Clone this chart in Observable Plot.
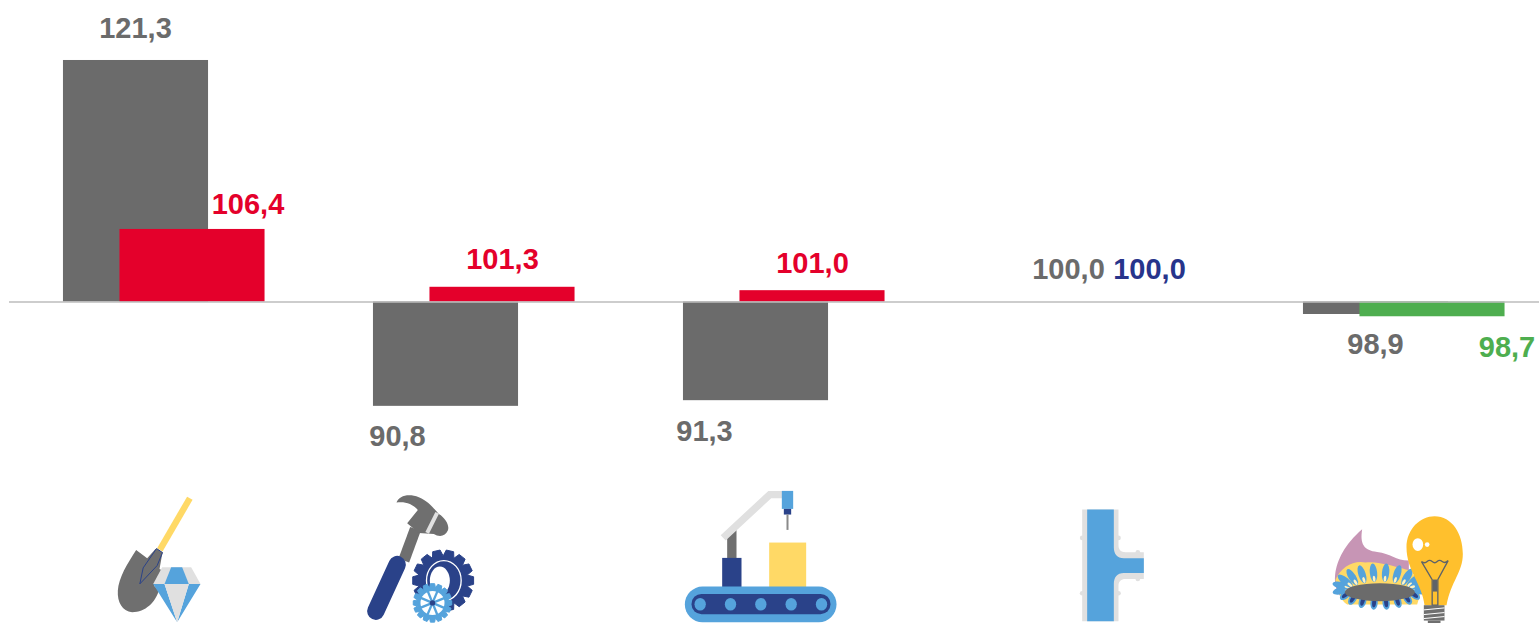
<!DOCTYPE html>
<html>
<head>
<meta charset="utf-8">
<script src="https://cdn.jsdelivr.net/npm/d3@7"></script>
<script src="https://cdn.jsdelivr.net/npm/@observablehq/plot@0.6"></script>
<style>html,body{margin:0;padding:0;background:#fff;overflow:hidden}svg{display:block}</style>
</head>
<body>
<div id="chart"></div>
<script>
// Data
const categories = ["Mining", "Manufacturing", "Processing", "Water", "Energy"];
const previousValues = [121.3, 90.8, 91.3, 100.0, 98.9];
const currentValues = [106.4, 101.3, 101.0, 100.0, 98.7];

// Styles and label placement
const baseline = 100;
const gray = "#6b6b6b";
const currentColors = ["#E4002B", "#E4002B", "#E4002B", "#27348B", "#4EAE4F"];
const previousLabelDx = [-28.5, -76.5, -79.5, -25.5, -28.5];
const previousLabelDy = [-32, 30, 31, -32.5, 30];
const currentLabelDx = [84, 28.5, 28.5, 55.5, 103];
const currentLabelDy = [-25, -28, -27, -32.5, 31];

// Icons: decoration only, each described in a local drawing space
const LG = "#e0e0e0", BL = "#55a3dc", NV = "#2a4289", GR = "#6f6f6f", YL = "#FFD966";
function gear(cx, cy, rOut, rIn, n, fill) {
  let pts = [];
  for (let i = 0; i < n; i++) {
    const a = (i / n) * 2 * Math.PI, w = Math.PI / n;
    [[-w, rIn], [-w * 0.55, rOut], [w * 0.55, rOut], [w, rIn]].forEach(([o, r]) =>
      pts.push((cx + r * Math.cos(a + o)).toFixed(1) + "," + (cy + r * Math.sin(a + o)).toFixed(1)));
  }
  return `<polygon points="${pts.join(" ")}" fill="${fill}" stroke="${fill}" stroke-width="3" stroke-linejoin="round"/>`;
}
function spokes(cx, cy, r, n, color) {
  let s = "";
  for (let i = 0; i < n; i++) {
    const a = (i / n) * 2 * Math.PI + 0.4;
    s += `<line x1="${cx}" y1="${cy}" x2="${(cx + r * Math.cos(a)).toFixed(1)}" y2="${(cy + r * Math.sin(a)).toFixed(1)}" stroke="${color}" stroke-width="7"/>`;
  }
  return s;
}
function burner() {
  let s = "";
  const cx = 178, cy = 262, rx = 116, ry = 46, n = 20;
  for (let i = 0; i < n; i++) {
    const a = (i / n) * 2 * Math.PI + 0.15;
    const x = cx + rx * Math.cos(a), y = cy + ry * Math.sin(a);
    const rot = (Math.atan2(Math.sin(a) * 1.6, Math.cos(a)) * 180) / Math.PI + 90;
    const lower = Math.sin(a) > 0.3;
    s += `<g transform="translate(${x.toFixed(1)} ${y.toFixed(1)}) rotate(${rot.toFixed(1)})">` +
      `<ellipse rx="11" ry="${lower ? 20 : 28}" fill="${BL}"/>` +
      (lower ? `<ellipse rx="6" ry="15" cy="2" fill="${NV}"/>` : `<ellipse rx="4" ry="9" cy="18" fill="#fff3c4"/>`) +
      `</g>`;
  }
  return s;
}
const iconMarkup = [
  // shovel and diamond
  `<svg xmlns="http://www.w3.org/2000/svg" viewBox="-139.5 0 720 429">
    <line x1="298" y1="53" x2="208" y2="208" stroke="${YL}" stroke-width="19"/>
    <path d="M137 208L170 233L195 205L216 216L207 265L215 270L190 315L205 330C195 365 165 395 125 395C95 392 80 365 82 330C85 290 110 250 137 208Z" fill="${GR}"/>
    <path d="M148 310L158 262L198 204L216 216L200 255Z" fill="${GR}" stroke="${NV}" stroke-width="3"/>
    <path d="M215 260H302L330 310H188Z" fill="${LG}"/>
    <path d="M242 260H275L295 310H222Z" fill="${BL}"/>
    <path d="M188 310H222L260 425Z M330 310H295L260 425Z" fill="${BL}"/>
    <path d="M222 310H295L260 425Z" fill="${LG}"/>
  </svg>`,
  // hammer and gears
  `<svg xmlns="http://www.w3.org/2000/svg" viewBox="790.5 0 720 429">
    <line x1="940" y1="240" x2="975" y2="145" stroke="${GR}" stroke-width="34"/>
    <line x1="920" y1="252" x2="856" y2="392" stroke="${NV}" stroke-width="52" stroke-linecap="round"/>
    <path d="M918 66C925 45 955 38 985 50C1015 62 1030 85 1045 100C1065 112 1078 135 1072 150C1065 168 1045 170 1030 160L985 157L950 128L982 88C965 68 940 62 918 66Z" fill="${GR}"/>
    <line x1="1040" y1="97" x2="1010" y2="157" stroke="${LG}" stroke-width="12"/>
    ${gear(1058, 300, 92, 74, 14, NV)}
    <ellipse cx="1060" cy="300" rx="52" ry="60" fill="none" stroke="#fff" stroke-width="4"/>
    <ellipse cx="1048" cy="300" rx="30" ry="42" fill="#fff"/>
    ${gear(1026, 367, 58, 46, 16, BL)}
    <circle cx="1026" cy="367" r="36" fill="#fff"/>
    ${spokes(1026, 367, 40, 8, BL)}
    <circle cx="1026" cy="367" r="8" fill="${NV}"/>
  </svg>`,
  // conveyor and robot arm
  `<svg xmlns="http://www.w3.org/2000/svg" viewBox="-19.5 0 720 429">
    <path d="M170 170L198 148V232H170Z" fill="${GR}"/>
    <polyline points="158,172 298,42 340,42" fill="none" stroke="${LG}" stroke-width="22"/>
    <rect x="334" y="31" width="34" height="54" fill="${BL}"/>
    <rect x="340" y="85" width="22" height="17" fill="${NV}"/>
    <rect x="348" y="102" width="6" height="46" fill="#8a8a8a"/>
    <rect x="296" y="186" width="111" height="134" fill="${YL}"/>
    <rect x="155" y="232" width="58" height="88" fill="${NV}"/>
    <rect x="43" y="318" width="455" height="107" rx="53" fill="${BL}"/>
    <rect x="63" y="340" width="417" height="61" rx="30" fill="${NV}"/>
    ${[89, 180, 271, 362, 453].map(x => `<ellipse cx="${x}" cy="371" rx="17" ry="19" fill="${BL}"/>`).join("")}
  </svg>`,
  // pipe
  `<svg xmlns="http://www.w3.org/2000/svg" viewBox="-259.5 -30 720 429">
    ${[[65, 142], [174, 142], [65, 308], [174, 308], [232, 185], [232, 265]].map(([x, y]) => `<circle cx="${x}" cy="${y}" r="7" fill="${LG}"/>`).join("")}
    <path d="M65 57H174V165C174 178 182 185 195 185H250V265H195C182 265 174 272 174 285V392H65Z" fill="${LG}"/>
    <path d="M80 57H160V170C160 190 170 203 190 203H250V247H190C170 247 160 260 160 280V392H80Z" fill="${BL}"/>
  </svg>`,
  // gas burner and light bulb
  `<svg xmlns="http://www.w3.org/2000/svg" viewBox="-109.5 -60 720 429">
    <path d="M125 86C118 130 130 150 170 154C210 158 225 180 265 180V300H80C30 285 20 175 125 86Z" fill="#C795B5"/>
    <path d="M45 238C60 200 100 178 135 186C170 180 230 200 270 210L305 260L290 312H80C60 300 50 265 45 238Z" fill="${YL}"/>
    ${burner()}
    <ellipse cx="178" cy="275" rx="105" ry="27" fill="${gray}"/>
    <path d="M342 47C395 47 427 100 427 160C427 215 392 240 378 314H312C305 250 258 210 258 140C258 85 300 47 342 47Z" fill="#FFC02D"/>
    <ellipse cx="292" cy="132" rx="16" ry="19" fill="#fff"/>
    <circle cx="320" cy="132" r="7" fill="#fff"/>
    <path d="M303 183Q313 190 320 183T335 183T350 183T365 183T383 180L352 237V314H335V237Z" fill="none" stroke="#5f6368" stroke-width="4"/>
    <rect x="337" y="237" width="13" height="36" fill="#5f6368"/>
    <rect x="310" y="314" width="62" height="46" fill="${GR}"/>
    <rect x="322" y="360" width="38" height="9" fill="${GR}"/>
    <path d="M310 328L372 322M310 342L372 336M310 354L372 348" stroke="#fff" stroke-width="3"/>
  </svg>`
];
const iconSources = iconMarkup.map(m => "data:image/svg+xml," + encodeURIComponent(m));

const fmt = v => v.toFixed(1).replace(".", ",");
const labelFont = { fontSize: 29, fontWeight: "bold", fontFamily: "'Liberation Sans', Arial, sans-serif", lineAnchor: "middle", textAnchor: "middle" };

const valueLabels = [];
categories.forEach((c, i) => {
  valueLabels.push(Plot.text([{ c, v: previousValues[i] }], { x: "c", y: "v", text: d => fmt(d.v), fill: gray, dx: previousLabelDx[i], dy: previousLabelDy[i], ...labelFont }));
  valueLabels.push(Plot.text([{ c, v: currentValues[i] }], { x: "c", y: "v", text: d => fmt(d.v), fill: currentColors[i], dx: currentLabelDx[i], dy: currentLabelDy[i], ...labelFont }));
});

const plot = Plot.plot({
  width: 1539,
  height: 623,
  marginTop: 0, marginRight: 0, marginBottom: 0, marginLeft: 9,
  style: { background: "#fff", overflow: "hidden" },
  x: { type: "band", domain: categories, range: [8.5, 1558.5], paddingInner: 0.532, paddingOuter: 0.266, align: 0.5, round: false, axis: null },
  y: { type: "linear", domain: [126.59, 71.65], range: [0, 623], axis: null },
  marks: [
    Plot.barY(categories.map((c, i) => ({ c, v: previousValues[i] })), { x: "c", y1: baseline, y2: "v", fill: gray, dx: -28 }),
    Plot.barY(categories.map((c, i) => ({ c, v: currentValues[i], color: currentColors[i] })), { x: "c", y1: baseline, y2: "v", fill: "color", dx: 28.5 }),
    Plot.ruleY([baseline], { stroke: "#bcbcbc", strokeWidth: 1.5 }),
    ...valueLabels,
    Plot.image(categories.map((c, i) => ({ c, src: iconSources[i] })), { x: "c", y: () => 77.95, src: "src", width: 240, height: 143, preserveAspectRatio: "xMidYMid meet" })
  ]
});
document.getElementById("chart").append(plot);
</script>
</body>
</html>
